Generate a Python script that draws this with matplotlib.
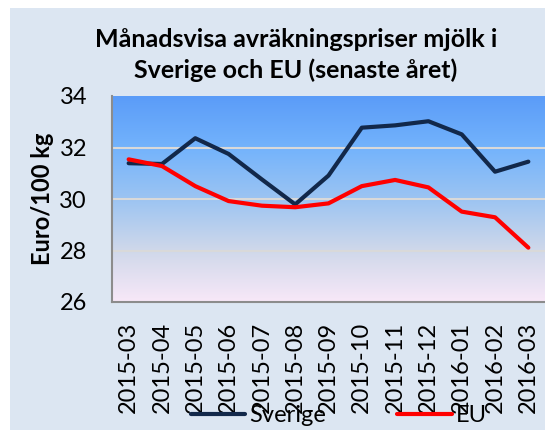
import numpy as np
from matplotlib import pyplot as plt
from matplotlib.colors import LinearSegmentedColormap
from matplotlib.patches import Rectangle

months = ['2015-03', '2015-04', '2015-05', '2015-06', '2015-07', '2015-08', '2015-09',
          '2015-10', '2015-11', '2015-12', '2016-01', '2016-02', '2016-03']
sverige = [31.39, 31.36, 32.36, 31.75, 30.76, 29.79, 30.91, 32.77, 32.86, 33.02, 32.51, 31.06, 31.45]
eu = [31.54, 31.28, 30.50, 29.92, 29.74, 29.68, 29.83, 30.50, 30.74, 30.45, 29.51, 29.29, 28.11]
yticks = [26, 28, 30, 32, 34]

plt.rcParams['font.family'] = ['Lato', 'DejaVu Sans']

fig = plt.figure(figsize=(5.45, 4.3), dpi=100)
fig.patch.set_facecolor('white')
bg = Rectangle((10 / 545, 0), 1, 1 - 8 / 430, transform=fig.transFigure,
               facecolor='#dce6f2', edgecolor='none', zorder=-10)
fig.add_artist(bg)

ax = fig.add_axes([112 / 545, 1 - 302 / 430, 1 - 112 / 545, (302 - 96) / 430])
ax.set_zorder(1)
x = np.arange(len(months))
ax.set_xlim(-0.5, len(months) - 0.5)
ax.set_ylim(26, 34)

# gradient background of the plot area
cmap = LinearSegmentedColormap.from_list('bg', ['#f8e8f8', '#cfd8ea', '#9cc4f2', '#73b3fc', '#5b9cf8'])
grad = np.linspace(0, 1, 256).reshape(-1, 1)
ax.imshow(grad, aspect='auto', cmap=cmap, origin='lower',
          extent=[-0.5, len(months) - 0.5, 26, 34], zorder=0)

for yv in yticks[1:-1]:
    ax.axhline(yv, color='#d9d9d9', lw=1.5, zorder=1)

ax.plot(x, sverige, color='#12284a', lw=3, label='Sverige', zorder=3, solid_capstyle='round')
ax.plot(x, eu, color='#ff0000', lw=3, label='EU', zorder=3, solid_capstyle='round')

ax.set_xticks(x)
ax.set_xticklabels(months, rotation=90, fontsize=17)
ax.set_yticks(yticks)
ax.set_yticklabels([str(v) for v in yticks], fontsize=17)
ax.tick_params(length=0)
ax.tick_params(axis='y', pad=18)
ax.tick_params(axis='x', pad=14)
for s in ['top', 'right']:
    ax.spines[s].set_visible(False)
for s in ['left', 'bottom']:
    ax.spines[s].set_color('#8c8c8c')
    ax.spines[s].set_linewidth(1.5)

ax.set_ylabel('Euro/100 kg', fontsize=17, fontweight='bold', labelpad=4)

fig.text(0.543, 0.872, 'Månadsvisa avräkningspriser mjölk i\nSverige och EU (senaste året)',
         ha='center', va='center', fontsize=18, fontweight='bold', linespacing=1.4)

fig.legend(loc='center', bbox_to_anchor=(0.622, 0.033), ncol=2, frameon=False, fontsize=17,
           handlelength=2.3, columnspacing=3.0, handletextpad=0.2)

fig.savefig('out.png', dpi=100)
plt.close(fig)
